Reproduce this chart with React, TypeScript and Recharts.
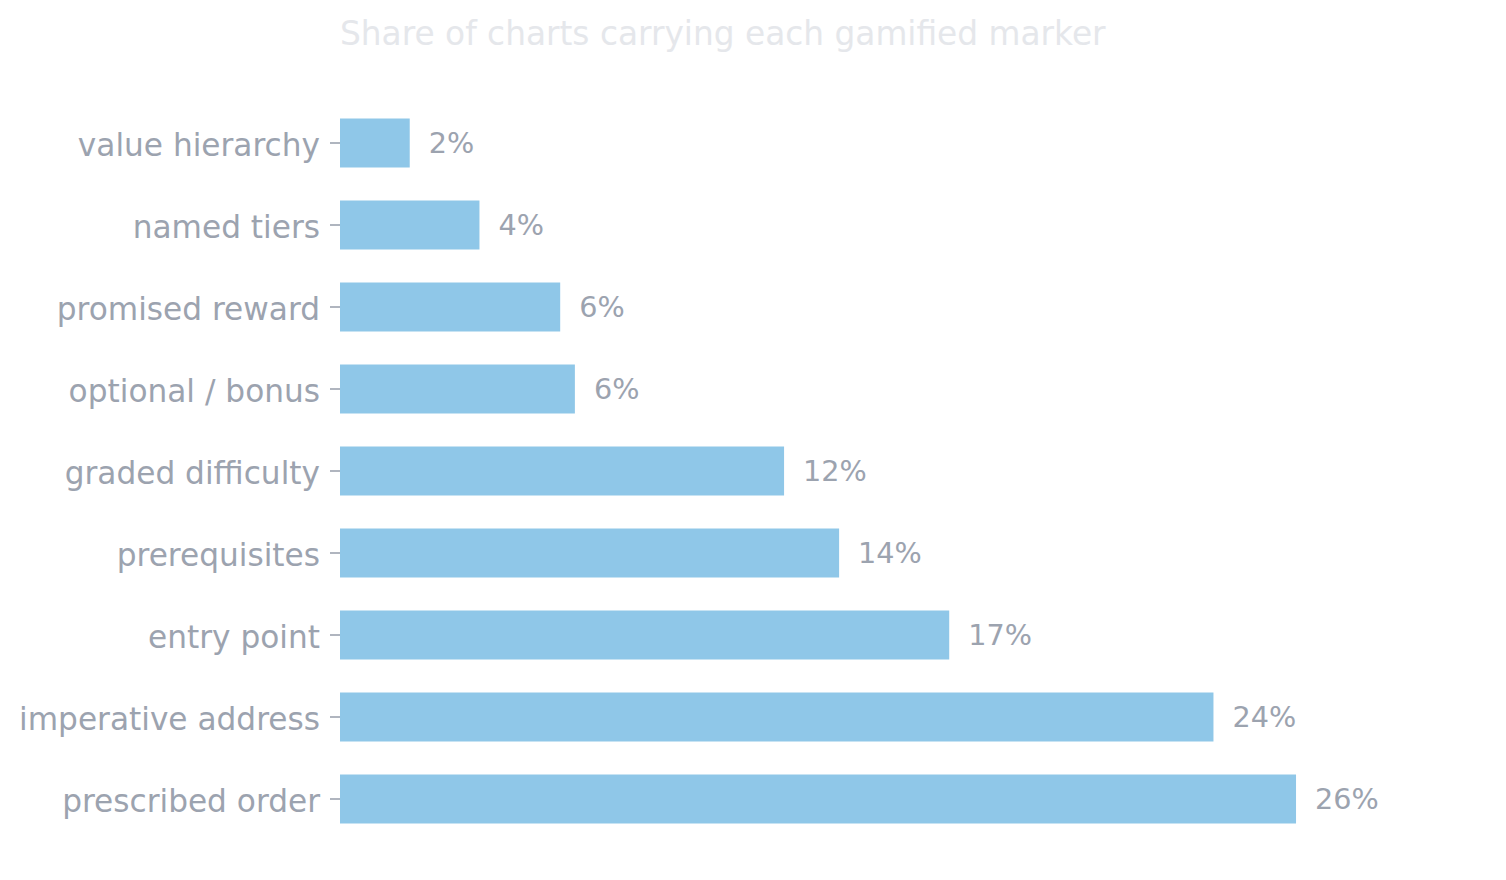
import React from "react";
import { BarChart, Bar, XAxis, YAxis, LabelList } from "recharts";

const categories = [
  "value hierarchy",
  "named tiers",
  "promised reward",
  "optional / bonus",
  "graded difficulty",
  "prerequisites",
  "entry point",
  "imperative address",
  "prescribed order",
];
const shares = [1.9, 3.8, 6.0, 6.4, 12.1, 13.6, 16.6, 23.8, 26.05];
const title = "Share of charts carrying each gamified marker";

const data = categories.map((name, i) => ({ name, share: shares[i] }));

const FONT = "'DejaVu Sans', sans-serif";
const TEXT = "#9ca3af";

export default function App() {
  return (
    <div style={{ position: "absolute", left: 0, top: 0, width: 1506, height: 880, background: "#fff", fontFamily: FONT }}>
      <div
        style={{
          position: "absolute",
          left: 340,
          top: 18,
          fontSize: 32.8,
          lineHeight: 1,
          color: "#e5e7eb",
          whiteSpace: "nowrap",
        }}
      >
        {title}
      </div>
      <BarChart
        width={1506}
        height={880}
        data={data}
        layout="vertical"
        margin={{ top: 102, right: 65, bottom: 40, left: 0 }}
        barCategoryGap="20%"
      >
        <XAxis type="number" domain={[0, 30]} hide />
        <YAxis
          type="category"
          dataKey="name"
          width={340}
          axisLine={false}
          tickSize={10}
          tickMargin={10}
          tickLine={{ stroke: TEXT, strokeWidth: 1.6 }}
          tick={{ fill: TEXT, fontSize: 31.2, fontFamily: FONT, dy: 2 }}
          interval={0}
        />
        <Bar dataKey="share" fill="#8fc7e8" isAnimationActive={false}>
          <LabelList
            dataKey="share"
            position="right"
            offset={19}
            formatter={(v: number) => `${Math.round(v)}%`}
            style={{ fill: TEXT, fontSize: 28.7, fontFamily: FONT }}
          />
        </Bar>
      </BarChart>
    </div>
  );
}
